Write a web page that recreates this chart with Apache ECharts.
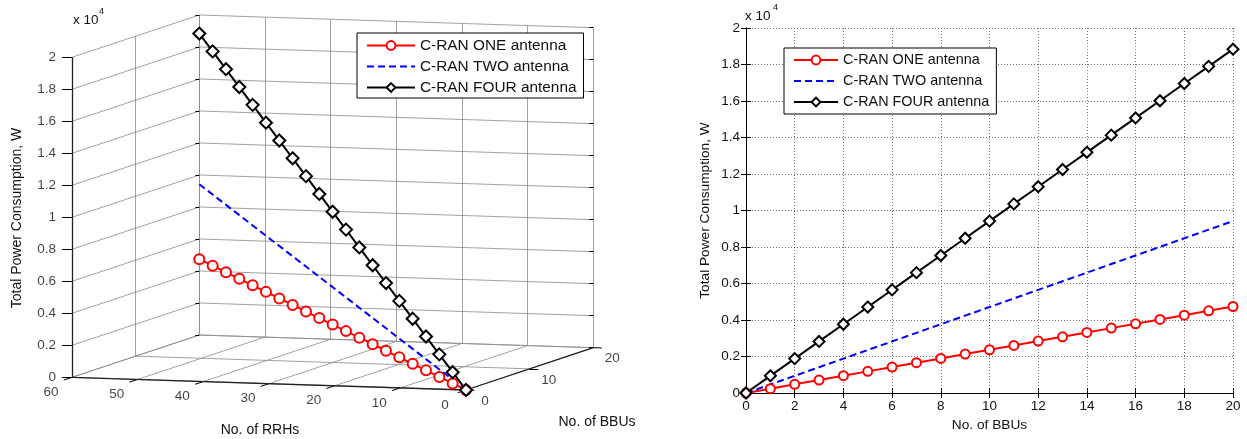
<!DOCTYPE html>
<html>
<head>
<meta charset="utf-8">
<script src="https://cdn.jsdelivr.net/npm/echarts@6/dist/echarts.min.js"></script>
<style>
  html, body { margin: 0; padding: 0; background: #fff; }
  #chart { width: 1247px; height: 439px; }
</style>
</head>
<body>
<div id="chart"></div>
<script>
// ---- data ----
const BBUS = [0, 1, 2, 3, 4, 5, 6, 7, 8, 9, 10, 11, 12, 13, 14, 15, 16, 17, 18, 19, 20];
const RRHS = [0, 3, 6, 9, 12, 15, 18, 21, 24, 27, 30, 33, 36, 39, 42, 45, 48, 51, 54, 57, 60];
const POWER_ONE = [0, 237, 474, 711, 948, 1185, 1422, 1659, 1896, 2133, 2370, 2607, 2844, 3081, 3318, 3555, 3792, 4029, 4266, 4503, 4740];
const POWER_TWO = [0, 471, 942, 1413, 1884, 2355, 2826, 3297, 3768, 4239, 4710, 5181, 5652, 6123, 6594, 7065, 7536, 8007, 8478, 8949, 9420];
const POWER_FOUR = [0, 942, 1884, 2826, 3768, 4710, 5652, 6594, 7536, 8478, 9420, 10362, 11304, 12246, 13188, 14130, 15072, 16014, 16956, 17898, 18840];
const SERIES_NAMES = ['C-RAN ONE antenna', 'C-RAN TWO antenna', 'C-RAN FOUR antenna'];
const POWER_TICKS = [0, 2000, 4000, 6000, 8000, 10000, 12000, 14000, 16000, 18000, 20000];
const RRH_TICKS = [0, 10, 20, 30, 40, 50, 60];
const BBU_TICKS = [0, 10, 20];
const RRH_MAX = 60, BBU_MAX = 20, POWER_MAX = 20000;

// ---- layout / styles ----
const W = 1247, H = 439;
const FONT = '"Liberation Sans", Arial, Helvetica, sans-serif';
const TXT = '#111';
const GRID3D = '#8a8a8a';

// orthographic view of the 3-D box: screen position of the origin corner
// and the screen vector spanned by each full axis
const VIEW = {
  origin: [466, 390],
  rrh: [-394, -12.7],
  bbu: [127.3, -42.3],
  power: [0, -320]
};
function project(r, b, p) {
  const fr = r / RRH_MAX, fb = b / BBU_MAX, fp = p / POWER_MAX;
  return [
    VIEW.origin[0] + fr * VIEW.rrh[0] + fb * VIEW.bbu[0] + fp * VIEW.power[0],
    VIEW.origin[1] + fr * VIEW.rrh[1] + fb * VIEW.bbu[1] + fp * VIEW.power[1]
  ];
}
function seg(a, b) { return { coords: [project(...a), project(...b)] }; }
function hTick(pt, len) { return { coords: [[pt[0] - len, pt[1]], pt] }; }

// grid lines on the three back planes
const gridSegs = [];
POWER_TICKS.forEach(p => {
  gridSegs.push(seg([0, BBU_MAX, p], [RRH_MAX, BBU_MAX, p]));   // back wall
  gridSegs.push(seg([RRH_MAX, 0, p], [RRH_MAX, BBU_MAX, p]));   // side wall
});
RRH_TICKS.forEach(r => {
  gridSegs.push(seg([r, BBU_MAX, 0], [r, BBU_MAX, POWER_MAX]));
  gridSegs.push(seg([r, 0, 0], [r, BBU_MAX, 0]));               // floor
});
BBU_TICKS.forEach(b => {
  if (b > 0) gridSegs.push(seg([RRH_MAX, b, 0], [RRH_MAX, b, POWER_MAX]));
  gridSegs.push(seg([0, b, 0], [RRH_MAX, b, 0]));
});

// axis lines and tick marks
const axisSegs = [
  seg([RRH_MAX, 0, 0], [RRH_MAX, 0, POWER_MAX]),
  seg([0, 0, 0], [RRH_MAX, 0, 0]),
  seg([0, 0, 0], [0, BBU_MAX, 0])
];
const tickSegs = [];
POWER_TICKS.forEach(p => {
  tickSegs.push(hTick(project(RRH_MAX, 0, p), 10));
  tickSegs.push(hTick(project(RRH_MAX, BBU_MAX, p), 4));
  tickSegs.push(hTick(project(0, BBU_MAX, p), 4));
});
RRH_TICKS.forEach(r => tickSegs.push(seg([r, 0, 0], [r, -1.3, 0])));
BBU_TICKS.forEach(b => tickSegs.push(seg([0, b, 0], [-1.3, b, 0])));

const fmtPower = v => String(+(v / 10000).toFixed(1));

function labelSeries(items, label) {
  return {
    type: 'scatter', xAxisIndex: 0, yAxisIndex: 0, silent: true, z: 5,
    symbolSize: 0, itemStyle: { color: 'rgba(0,0,0,0)' },
    label: Object.assign({ show: true, formatter: '{b}', color: TXT, fontSize: 13.5, fontFamily: FONT }, label),
    emphasis: { disabled: true },
    data: items
  };
}

const powerLabels = POWER_TICKS.map(p => ({ name: fmtPower(p), value: project(RRH_MAX, 0, p) }));
const rrhLabels = RRH_TICKS.map(r => ({ name: String(r), value: project(r, 0, 0) }));
const bbuLabels = BBU_TICKS.map(b => ({ name: String(b), value: project(0, b, 0) }));

const STYLES = [
  { color: '#ff0000', symbol: 'emptyCircle', size: 10, dash: 'solid' },
  { color: '#0000ff', symbol: 'none', size: 0, dash: [7, 4] },
  { color: '#000000', symbol: 'emptyDiamond', size: 12, dash: 'solid' }
];
const POWERS = [POWER_ONE, POWER_TWO, POWER_FOUR];

function itemStyleFor(s) {
  // the dashed curve has no markers, so its legend marker stays invisible
  return s.symbol === 'none'
    ? { color: 'rgba(0,0,0,0)', borderWidth: 0 }
    : { color: s.color, borderWidth: 1.8 };
}

const series = [
  { type: 'lines', coordinateSystem: 'cartesian2d', xAxisIndex: 0, yAxisIndex: 0, silent: true, z: 1,
    lineStyle: { color: GRID3D, width: 0.8, opacity: 1 }, data: gridSegs },
  { type: 'lines', coordinateSystem: 'cartesian2d', xAxisIndex: 0, yAxisIndex: 0, silent: true, z: 2,
    lineStyle: { color: '#000', width: 1, opacity: 1 }, data: tickSegs },
  { type: 'lines', coordinateSystem: 'cartesian2d', xAxisIndex: 0, yAxisIndex: 0, silent: true, z: 2,
    lineStyle: { color: '#222', width: 1.3, opacity: 1 }, data: axisSegs },
  labelSeries(powerLabels, { position: 'left', distance: 16 }),
  labelSeries(rrhLabels, { position: [-21, 15], align: 'center', verticalAlign: 'middle' }),
  labelSeries(bbuLabels, { position: [19, 11], align: 'center', verticalAlign: 'middle' })
];

// 3-D curves
POWERS.forEach((vals, k) => {
  const s = STYLES[k];
  series.push({
    name: SERIES_NAMES[k], type: 'line', xAxisIndex: 0, yAxisIndex: 0, z: 4,
    data: vals.map((p, i) => project(RRHS[i], BBUS[i], p)),
    symbol: s.symbol, symbolSize: s.size, showSymbol: s.symbol !== 'none',
    lineStyle: { color: s.color, width: 2, type: s.dash },
    itemStyle: itemStyleFor(s),
    animation: false, silent: true
  });
});
// 2-D curves
POWERS.forEach((vals, k) => {
  const s = STYLES[k];
  series.push({
    name: SERIES_NAMES[k], type: 'line', xAxisIndex: 1, yAxisIndex: 1, z: 4,
    data: vals.map((p, i) => [BBUS[i], p]),
    symbol: s.symbol, symbolSize: s.size - 1, showSymbol: s.symbol !== 'none',
    lineStyle: { color: s.color, width: 2, type: s.dash },
    itemStyle: itemStyleFor(s),
    animation: false, silent: true
  });
});

const tickLabel = { color: TXT, fontSize: 13.5, fontFamily: FONT };
const boxLine = { show: true, lineStyle: { color: '#000', width: 1 } };
const inTick = { show: true, inside: true, length: 5, lineStyle: { color: '#000' } };
const dotted = { show: true, lineStyle: { color: '#6e6e6e', width: 1, type: [1, 2] } };

const legendBase = {
  data: SERIES_NAMES, orient: 'vertical', selectedMode: false,
  borderColor: '#000', borderWidth: 1, backgroundColor: '#fff',
  itemHeight: 11
};

const option = {
  animation: false,
  backgroundColor: '#fff',
  grid: [
    { left: 0, top: 0, width: W, height: H },
    { left: 746, top: 28, width: 487, height: 365 }
  ],
  xAxis: [
    { gridIndex: 0, type: 'value', min: 0, max: W, show: false },
    { gridIndex: 1, type: 'value', min: 0, max: 20, interval: 2,
      axisLine: boxLine, axisTick: inTick, splitLine: dotted,
      axisLabel: Object.assign({ margin: 6 }, tickLabel),
      name: 'No. of BBUs', nameLocation: 'middle', nameGap: 20,
      nameTextStyle: { color: TXT, fontSize: 13.7, fontFamily: FONT } },
    { gridIndex: 1, type: 'value', min: 0, max: 20, interval: 2, position: 'top',
      axisLine: boxLine, axisTick: inTick, splitLine: { show: false }, axisLabel: { show: false } }
  ],
  yAxis: [
    { gridIndex: 0, type: 'value', min: 0, max: H, inverse: true, show: false },
    { gridIndex: 1, type: 'value', min: 0, max: 20000, interval: 2000,
      axisLine: boxLine, axisTick: inTick, splitLine: dotted,
      axisLabel: Object.assign({ margin: 6, formatter: fmtPower }, tickLabel),
      name: 'Total Power Consumption, W', nameLocation: 'middle', nameGap: 34,
      nameTextStyle: { color: TXT, fontSize: 13.7, fontFamily: FONT } },
    { gridIndex: 1, type: 'value', min: 0, max: 20000, interval: 2000, position: 'right',
      axisLine: boxLine, axisTick: inTick, splitLine: { show: false }, axisLabel: { show: false } }
  ],
  legend: [
    Object.assign({}, legendBase, { left: 357, top: 33, itemWidth: 48, itemGap: 6, padding: [5, 7, 3, 9],
      textStyle: { color: TXT, fontSize: 15.4, fontFamily: FONT } }),
    Object.assign({}, legendBase, { left: 784, top: 48, itemWidth: 44, itemGap: 7, padding: [5, 7, 5, 9],
      textStyle: { color: TXT, fontSize: 14.4, fontFamily: FONT } })
  ],
  graphic: [
    { type: 'text', x: 17, y: 218, rotation: Math.PI / 2,
      style: { text: 'Total Power Consumption, W', fill: TXT, font: '14px ' + FONT, align: 'center', verticalAlign: 'middle' } },
    { type: 'text', x: 260, y: 430,
      style: { text: 'No. of RRHs', fill: TXT, font: '14px ' + FONT, align: 'center', verticalAlign: 'middle' } },
    { type: 'text', x: 597, y: 422,
      style: { text: 'No. of BBUs', fill: TXT, font: '14px ' + FONT, align: 'center', verticalAlign: 'middle' } },
    { type: 'text', x: 73, y: 20,
      style: { text: 'x 10', fill: TXT, font: '13.5px ' + FONT, align: 'left', verticalAlign: 'middle' } },
    { type: 'text', x: 99, y: 12,
      style: { text: '4', fill: TXT, font: '9px ' + FONT, align: 'left', verticalAlign: 'middle' } },
    { type: 'text', x: 745, y: 16,
      style: { text: 'x 10', fill: TXT, font: '13.5px ' + FONT, align: 'left', verticalAlign: 'middle' } },
    { type: 'text', x: 773, y: 8,
      style: { text: '4', fill: TXT, font: '9px ' + FONT, align: 'left', verticalAlign: 'middle' } }
  ],
  series: series
};

const chart = echarts.init(document.getElementById('chart'), null, { renderer: 'canvas' });
chart.setOption(option);
</script>
</body>
</html>
